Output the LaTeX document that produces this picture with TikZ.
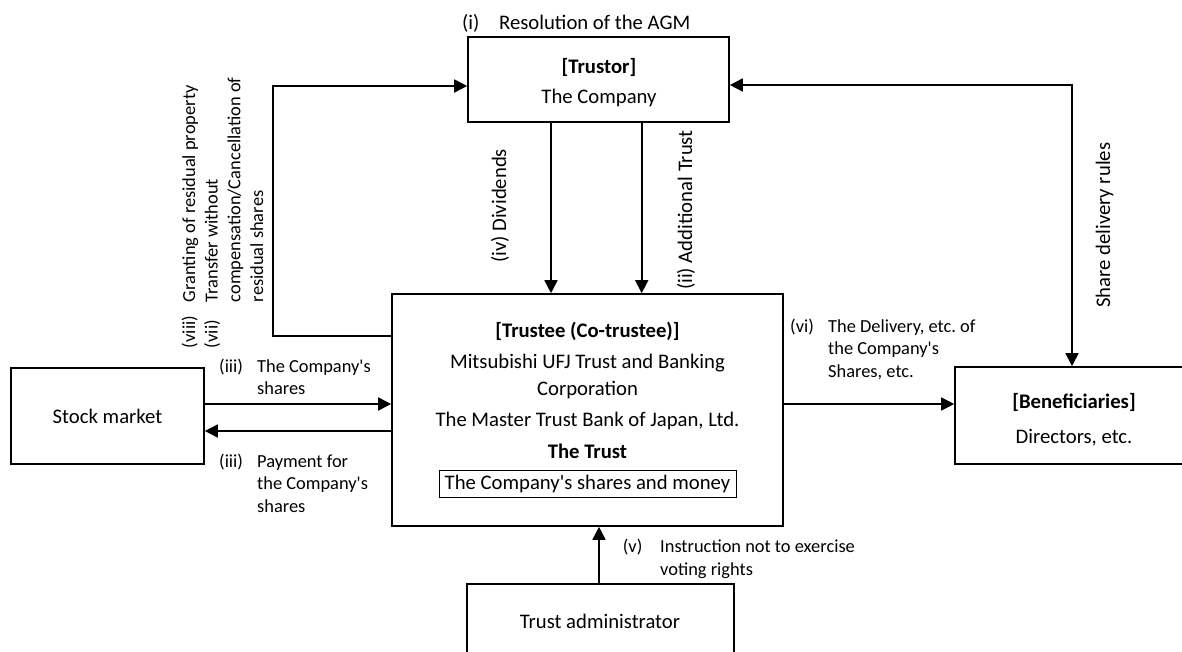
\documentclass[tikz,border=0pt]{standalone}
\usepackage{fontspec}
\newfontfamily\cf{Carlito}
\usetikzlibrary{arrows.meta}
\newcommand\mainsz{\cf\fontsize{20.7}{25}\selectfont}
\newcommand\smallsz{\cf\fontsize{18.4}{22.7}\selectfont}
\newcommand\hanglbl[3]{\begin{tabular}[t]{@{}p{#1}@{}l@{}}#2 & #3\end{tabular}}
\frenchspacing
\begin{document}
\frenchspacing
\begin{tikzpicture}[x=1pt,y=-1pt,
  box/.style={draw,line width=1.6pt,inner sep=0pt},
  arr/.style={line width=1.6pt,-{Triangle[length=13pt,width=13pt]}},
  dblarr/.style={line width=1.6pt,{Triangle[length=13pt,width=13pt]}-{Triangle[length=13pt,width=13pt]}},
  txt/.style={anchor=base,inner sep=0pt,font=\mainsz},
  lbl/.style={anchor=base west,inner sep=0pt,font=\smallsz},
  vlbl/.style={rotate=90,anchor=base west,inner sep=0pt,font=\mainsz}]
\useasboundingbox (0,0) rectangle (1182,652);
\clip (0,0) rectangle (1182,652);
% boxes
\node[box,minimum width=261pt,minimum height=85pt] (trustor) at (598.5,79.5) {};
\node[box,minimum width=391pt,minimum height=232pt] (trustee) at (587.5,410) {};
\node[box,minimum width=193pt,minimum height=96pt,font=\mainsz] (stock) at (107.5,416) {Stock market};
\node[box,minimum width=238pt,minimum height=97pt] (benef) at (1074,415.5) {};
\node[box,minimum width=267pt,minimum height=92pt] (admin) at (600.5,630) {};
\node[draw,line width=0.8pt,inner sep=0pt,minimum width=297pt,minimum height=27pt,font=\mainsz] (money) at (587.5,483.5) {The Company's shares and money};
% box texts
\node[txt] (t1) at (599,74) {\textbf{[Trustor]}};
\node[txt] (t2) at (599,104) {The Company};
\node[txt] (e1) at (587.5,337) {\textbf{[Trustee (Co-trustee)]}};
\node[txt] (e2) at (587.5,368) {Mitsubishi UFJ Trust and Banking};
\node[txt] (e3) at (587.5,395) {Corporation};
\node[txt] (e4) at (587.5,426) {The Master Trust Bank of Japan, Ltd.};
\node[txt] (e5) at (587.5,458) {\textbf{The Trust}};
\node[txt] (b1) at (1074,408) {\textbf{[Beneficiaries]}};
\node[txt] (b2) at (1074,443) {Directors, etc.};
\node[txt] (a2) at (600,628) {Trust administrator};
% helper coordinates
\coordinate (lA) at (273,336);
\coordinate (lB) at (273,86);
\coordinate (rB) at (1072,85);
\coordinate (dv) at (551,0);
\coordinate (ad) at (641.7,0);
\coordinate (s1) at (0,404);
\coordinate (s2) at (0,431);
\coordinate (d1) at (0,404);
\coordinate (a1) at (599,0);
% connectors
\draw[arr] (trustee.west |- lA) -- (lA) -- (lB) -- (trustor.west |- lB);
\draw[dblarr] (trustor.east |- rB) -- (rB) -- (rB |- benef.north);
\draw[arr] (trustor.south -| dv) -- (trustee.north -| dv);
\draw[arr] (trustor.south -| ad) -- (trustee.north -| ad);
\draw[arr] (stock.east |- s1) -- (trustee.west |- s1);
\draw[arr] (trustee.west |- s2) -- (stock.east |- s2);
\draw[arr] (trustee.east |- d1) -- (benef.west |- d1);
\draw[arr] (admin.north -| a1) -- (trustee.south -| a1);
% labels
\node[lbl,font=\mainsz] (li) at (462,29.5) {\hanglbl{37pt}{(i)}{Resolution of the AGM}};
\node[lbl] (liii1) at (219,372) {\hanglbl{38pt}{(iii)}{The Company's\\ & shares}};
\node[lbl] (liii2) at (219,467) {\hanglbl{38pt}{(iii)}{Payment for\\ & the Company's\\ & shares}};
\node[lbl] (lvi) at (790,332) {\hanglbl{38pt}{(vi)}{The Delivery, etc. of\\ & the Company's\\ & Shares, etc.}};
\node[lbl] (lv) at (622.7,552.7) {\hanglbl{37.3pt}{(v)}{Instruction not to exercise\\ & voting rights}};
\node[vlbl] (liv) at (506,263) {(iv) Dividends};
\node[vlbl] (lii) at (692,290) {(ii) Additional Trust};
\node[vlbl] (lsd) at (1110,308) {Share delivery rules};
\node[vlbl,font=\smallsz] (lviii) at (195,348.3) {\hanglbl{46pt}{(viii)}{Granting of residual property\\ (vii) & Transfer without\\ & compensation/Cancellation of\\ & residual shares}};
\end{tikzpicture}
\end{document}
